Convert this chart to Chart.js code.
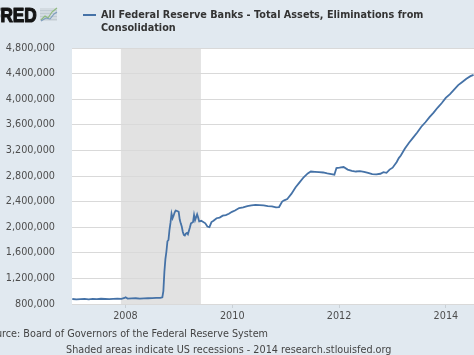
<!DOCTYPE html>
<html>
<head>
<meta charset="utf-8">
<script src="https://cdn.jsdelivr.net/npm/chart.js@4.4.1/dist/chart.umd.min.js"></script>
<style>
html,body{margin:0;padding:0;background:#e1e9f0;overflow:hidden;}
canvas{display:block;}
</style>
</head>
<body>
<canvas id="c" width="474" height="355"></canvas>
<script>
// ---- data (millions of dollars) ----
const dates = [
"2007-01-03","2007-01-31","2007-02-28","2007-03-28","2007-04-25","2007-05-23","2007-06-20","2007-07-18",
"2007-08-15","2007-09-12","2007-10-10","2007-11-07","2007-12-05","2007-12-26","2008-01-02","2008-01-16",
"2008-02-13","2008-03-12","2008-04-09","2008-05-07","2008-06-04","2008-07-02","2008-07-30","2008-08-27",
"2008-09-10","2008-09-17","2008-09-24","2008-10-01","2008-10-08","2008-10-15","2008-10-22","2008-10-29",
"2008-11-05","2008-11-12","2008-11-19","2008-11-26","2008-12-03","2008-12-10","2008-12-17","2008-12-24",
"2008-12-31","2009-01-07","2009-01-14","2009-01-21","2009-01-28","2009-02-04","2009-02-11","2009-02-18",
"2009-02-25","2009-03-04","2009-03-18","2009-03-25","2009-04-01","2009-04-08","2009-04-15","2009-04-22",
"2009-05-06","2009-05-13","2009-05-20","2009-06-03","2009-06-17","2009-07-01","2009-07-15","2009-07-29",
"2009-08-12","2009-08-26","2009-09-16","2009-10-07","2009-10-28","2009-11-18","2009-12-09","2009-12-30",
"2010-01-20","2010-02-17","2010-03-17","2010-04-14","2010-05-12","2010-06-09","2010-07-07","2010-08-04",
"2010-09-01","2010-09-29","2010-10-27","2010-11-17","2010-12-08","2010-12-22","2011-01-12","2011-01-19",
"2011-02-09","2011-03-09","2011-04-06","2011-05-04","2011-06-01","2011-06-22","2011-07-20","2011-08-17",
"2011-09-14","2011-10-12","2011-11-09","2011-11-30","2011-12-14","2012-01-04","2012-02-01","2012-02-29",
"2012-03-28","2012-04-25","2012-05-23","2012-06-20","2012-07-18","2012-08-15","2012-09-12","2012-10-10",
"2012-10-31","2012-11-21","2012-12-12","2013-01-02","2013-01-30","2013-02-13","2013-02-27","2013-03-27",
"2013-04-24","2013-05-22","2013-06-19","2013-07-17","2013-08-14","2013-09-11","2013-10-09","2013-11-06",
"2013-12-04","2013-12-31","2014-01-29","2014-02-26","2014-03-26","2014-04-23","2014-05-21","2014-06-18",
"2014-07-09"
];
const totalAssets = [
878000,872000,876000,880000,873000,880000,877000,882000,
878000,875000,880000,884000,880000,895000,905000,885000,
888000,890000,885000,888000,890000,892000,895000,895000,
905000,1000000,1300000,1500000,1620000,1780000,1800000,1960000,
2070000,2210000,2140000,2180000,2230000,2260000,2255000,2250000,
2240000,2120000,2060000,2010000,1930000,1880000,1870000,1900000,
1910000,1890000,2000000,2060000,2070000,2080000,2190000,2110000,
2200000,2150000,2090000,2100000,2080000,2060000,2010000,2000000,
2080000,2100000,2140000,2150000,2180000,2190000,2210000,2240000,
2260000,2300000,2310000,2330000,2340000,2350000,2345000,2340000,
2330000,2325000,2310000,2315000,2400000,2420000,2440000,2460000,
2520000,2620000,2700000,2780000,2840000,2870000,2865000,2860000,
2855000,2840000,2830000,2820000,2925000,2930000,2940000,2900000,
2880000,2870000,2875000,2865000,2850000,2830000,2825000,2835000,
2860000,2850000,2900000,2930000,3020000,3080000,3120000,3230000,
3320000,3400000,3480000,3570000,3640000,3720000,3790000,3870000,
3940000,4020000,4080000,4150000,4220000,4270000,4320000,4360000,
4380000
];
const recessions = [["2007-12-01","2009-06-01"]];
const xTicks = [2008, 2010, 2012, 2014];
const yMin = 800000, yMax = 4800000, yStep = 400000;
const xMin = "2007-01-01", xMax = "2014-07-12";
const seriesTitle = ["All Federal Reserve Banks - Total Assets, Eliminations from", "Consolidation"];
const sourceText = "Source: Board of Governors of the Federal Reserve System";
const noteText = "Shaded areas indicate US recessions - 2014 research.stlouisfed.org";

function toYear(s){
  const [y,m,d] = s.split("-").map(Number);
  const t0 = Date.UTC(y,0,1), t1 = Date.UTC(y+1,0,1);
  return y + (Date.UTC(y,m-1,d) - t0)/(t1 - t0);
}
const points = dates.map((d,i)=>({x:toYear(d), y:totalAssets[i]}));

const FONT = "'DejaVu Sans', Verdana, sans-serif";
const mctx = document.createElement('canvas').getContext('2d');
function fitSize(text, target, weight){
  mctx.font = weight + " 10px " + FONT;
  return 10 * target / mctx.measureText(text).width;
}
const smallSize = fitSize(noteText, 326, "normal");
const titleSize = fitSize(seriesTitle[0], 323, "bold");

const decor = {
  id:'decor',
  beforeDraw(chart){
    const ctx = chart.ctx, a = chart.chartArea, xs = chart.scales.x;
    ctx.save();
    ctx.fillStyle = '#e1e9f0';
    ctx.fillRect(0,0,chart.width,chart.height);
    ctx.fillStyle = '#ffffff';
    ctx.fillRect(a.left,a.top,a.right-a.left,a.bottom-a.top);
    ctx.fillStyle = '#e2e2e2';
    recessions.forEach(r=>{
      const x0 = Math.max(a.left, xs.getPixelForValue(toYear(r[0])));
      const x1 = Math.min(a.right, xs.getPixelForValue(toYear(r[1])));
      ctx.fillRect(x0,a.top,x1-x0,a.bottom-a.top);
    });
    ctx.restore();
  },
  afterDraw(chart){
    const ctx = chart.ctx;
    ctx.save();
    // logo (cropped "FRED")
    ctx.fillStyle = '#151515';
    ctx.strokeStyle = '#151515';
    ctx.lineWidth = 1.2;
    ctx.lineJoin = 'round';
    ctx.font = "bold 20px 'Liberation Sans', Arial, sans-serif";
    ctx.textBaseline = 'alphabetic';
    ctx.save();
    ctx.translate(0,22);
    ctx.scale(0.86,1);
    const wF = ctx.measureText("F").width;
    ctx.fillText("FRED", -wF + 0.5, 0);
    ctx.strokeText("FRED", -wF + 0.5, 0);
    ctx.restore();
    // small logo icon
    ctx.fillStyle = '#d3dbe1';
    ctx.fillRect(40,8,17,13);
    ctx.strokeStyle = '#c2ccd4'; ctx.lineWidth = 1;
    for (let i=0;i<4;i++){ ctx.beginPath(); ctx.moveTo(40, 10.5+i*3); ctx.lineTo(57, 10.5+i*3); ctx.stroke(); }
    ctx.strokeStyle = '#8fbb7e'; ctx.lineWidth = 1.2;
    ctx.beginPath(); ctx.moveTo(41,20); ctx.lineTo(45,16); ctx.lineTo(48,18); ctx.lineTo(52,12); ctx.lineTo(57,8); ctx.stroke();
    ctx.strokeStyle = '#7d9dbd';
    ctx.beginPath(); ctx.moveTo(41,21); ctx.lineTo(46,18); ctx.lineTo(50,19); ctx.lineTo(54,14); ctx.lineTo(57,12); ctx.stroke();
    // legend
    ctx.strokeStyle = '#4572a7'; ctx.lineWidth = 2;
    ctx.beginPath(); ctx.moveTo(83,15); ctx.lineTo(96,15); ctx.stroke();
    ctx.fillStyle = '#333333';
    ctx.font = "bold " + titleSize + "px " + FONT;
    ctx.textBaseline = 'middle';
    ctx.fillText(seriesTitle[0], 101, 15);
    ctx.fillText(seriesTitle[1], 101, 28);
    // footer
    ctx.fillStyle = '#444444';
    ctx.font = smallSize + "px " + FONT;
    const ws = ctx.measureText(sourceText).width;
    ctx.fillText(sourceText, 268 - ws, 334.5);
    ctx.fillText(noteText, 66, 350.5);
    ctx.restore();
  }
};

new Chart(document.getElementById('c'), {
  type:'line',
  data:{ datasets:[{
    data: points,
    borderColor:'#4572a7',
    borderWidth:1.8,
    pointRadius:0,
    tension:0,
    fill:false
  }]},
  options:{
    responsive:false,
    animation:false,
    devicePixelRatio:1,
    layout:{padding:{top:48,left:0,right:0,bottom:0}},
    plugins:{legend:{display:false},title:{display:false},tooltip:{enabled:false}},
    scales:{
      x:{
        type:'linear',
        min: toYear(xMin), max: toYear(xMax),
        afterBuildTicks(s){ s.ticks = xTicks.map(v=>({value:v})); },
        afterFit(s){ s.height = 51; },
        border:{display:false},
        grid:{drawOnChartArea:false, drawTicks:true, tickLength:4, color:'#c9d0d6'},
        ticks:{
          autoSkip:false, maxRotation:0,
          padding:3,
          color:'#4d4d4d',
          font:{family:FONT, size:smallSize},
          callback:v=>String(v)
        }
      },
      y:{
        min:yMin, max:yMax,
        afterFit(s){ s.width = 72; },
        border:{display:false},
        grid:{color:'#d9d9d9', drawTicks:false, lineWidth:1},
        ticks:{
          stepSize:yStep,
          padding:17,
          color:'#4d4d4d',
          font:{family:FONT, size:smallSize},
          callback:v=>v.toLocaleString('en-US')
        }
      }
    }
  },
  plugins:[decor]
});
</script>
</body>
</html>
